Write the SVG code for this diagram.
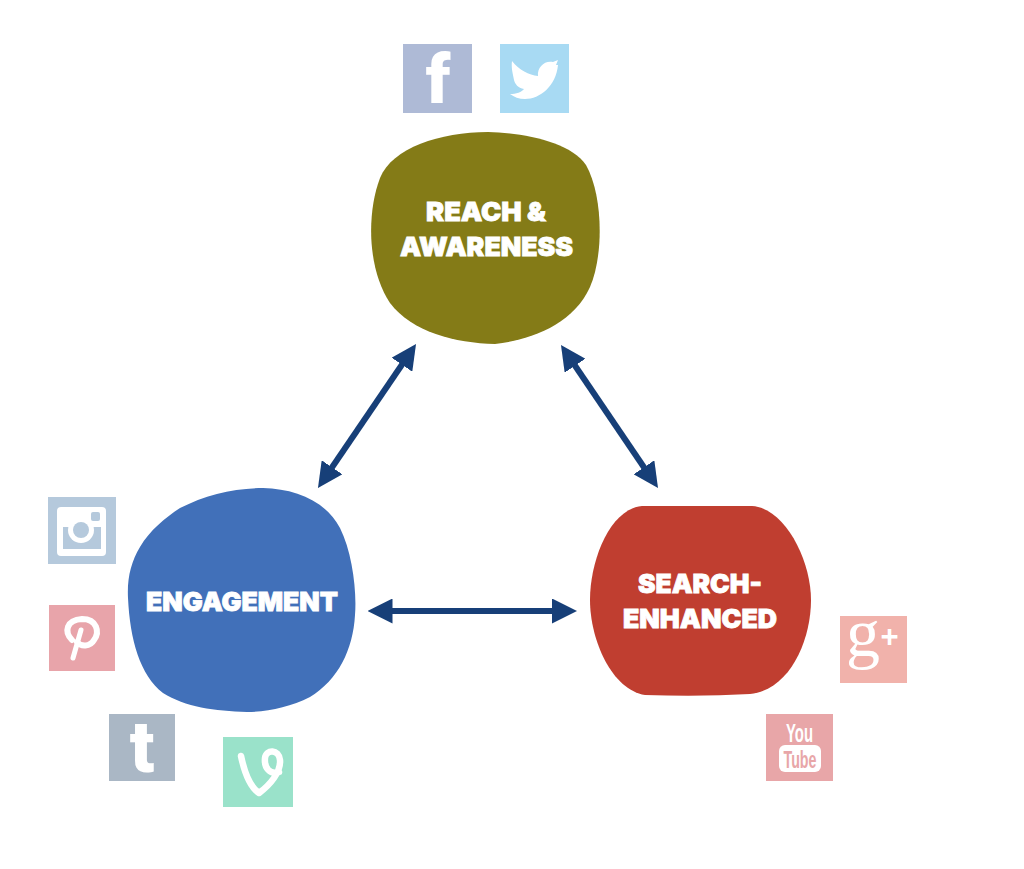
<svg xmlns="http://www.w3.org/2000/svg" width="1024" height="869" viewBox="0 0 1024 869">
<style>
.lbl{font-family:"Inter","Liberation Sans",sans-serif;font-weight:900;font-size:26px;fill:#fff;text-anchor:start;stroke:#fff;stroke-width:.8px}
.ico{fill:#fff;stroke:none;text-anchor:middle}
.link{stroke:#173f78;stroke-width:6;fill:none;marker-start:url(#ah);marker-end:url(#ah)}
.w{fill:none;stroke:#fff;stroke-linecap:round;stroke-linejoin:round}
</style>
<defs>
<marker id="ah" viewBox="0 0 25 25" refX="15" refY="12.5" markerWidth="25" markerHeight="25" markerUnits="userSpaceOnUse" orient="auto-start-reverse"><path d="M0 0L25 12.5L0 25Z" fill="#173f78"/></marker>
</defs>
<rect width="1024" height="869" fill="#fff"/>
<g id="connectors">
<line class="link" x1="410.4" y1="352.3" x2="323.6" y2="479.7"/>
<line class="link" x1="566.6" y1="353.3" x2="652.4" y2="479.7"/>
<line class="link" x1="377.5" y1="611" x2="567" y2="611"/>
</g>
<g id="reach"><path d="M488 132C525 133 570 142 586 165C603 195 604 255 590 287C573 325 530 340 495 344C455 343 412 332 390 303C368 270 366 215 380 178C392 148 440 132 488 132Z" fill="#847b17"/>
<text class="lbl" x="426" y="221" textLength="120" lengthAdjust="spacingAndGlyphs">REACH &amp;</text><text class="lbl" x="400" y="256" textLength="173" lengthAdjust="spacingAndGlyphs">AWARENESS</text></g>
<g id="engagement"><path d="M263 488C295 489 325 500 340 528C352 552 357 590 355 615C353 650 338 680 310 697C290 707 268 712 247 712C215 711 185 707 163 693C140 675 130 640 128 598C127 578 131 562 140 547C150 530 165 518 180 508C205 495 235 488 263 488Z" fill="#4170b9"/>
<text class="lbl" x="146" y="611" textLength="192" lengthAdjust="spacingAndGlyphs">ENGAGEMENT</text></g>
<g id="search"><path d="M642 506L752 506C785 508 811 560 811 600C811 640 790 690 750 694Q700 697 645 695C612 690 590 640 590 600C590 560 610 509 642 506Z" fill="#c03e30"/>
<text class="lbl" x="638" y="593" textLength="124" lengthAdjust="spacingAndGlyphs">SEARCH-</text><text class="lbl" x="623" y="628" textLength="154" lengthAdjust="spacingAndGlyphs">ENHANCED</text></g>
<g id="facebook"><rect x="403" y="44" width="69" height="69" fill="#aebad6"/><text class="ico" x="438" y="103" font-family="Roboto,sans-serif" font-weight="900" font-size="68">f</text></g>
<g id="twitter"><rect x="500" y="44" width="69" height="69" fill="#a8daf3"/><path d="M512 61C519 70 529 75 538 76C537 67 545 60 553 62L558 60L556 65L558 65C556 86 540 99 525 99C519 99 514 97 510 94C516 94 522 92 524 89C518 88 515 84 514 80C513 74 511 68 512 61Z" fill="#fff"/></g>
<g id="instagram"><rect x="48" y="497" width="68" height="67" fill="#b5c9dc"/><rect x="57" y="507" width="49" height="49" rx="4" fill="#fff"/><rect x="63" y="527" width="38" height="22" fill="#b5c9dc"/><circle cx="81" cy="530" r="13" fill="#fff"/><circle cx="81" cy="530" r="8" fill="#b5c9dc"/><rect x="91" y="512" width="9" height="9" rx="2" fill="#b5c9dc"/></g>
<g id="pinterest"><rect x="49" y="605" width="66" height="66" fill="#e8a4aa"/><path class="w" stroke-width="6" d="M72 640C64 632 66 620 82 619C97 619 100 632 94 640C90 647 81 647 77 642"/><path class="w" stroke-width="5" d="M81 630L73 658"/></g>
<g id="tumblr"><rect x="109" y="714" width="66" height="67" fill="#aab7c5"/><text class="ico" x="142" y="772" font-family="Roboto,sans-serif" font-weight="900" font-size="72">t</text></g>
<g id="vine"><rect x="223" y="737" width="70" height="70" fill="#9ae2ca"/><path class="w" stroke-width="6.5" d="M241 756C245 775 250 787 259 793C270 785 281 772 280 760C279 749 266 749 265 758C264 768 270 775 279 772"/></g>
<g id="googleplus"><rect x="840" y="616" width="67" height="67" fill="#f1b2ab"/><text class="ico" x="863" y="656" font-family="Liberation Serif,serif" font-size="68">g</text><text class="ico" x="889.500" y="647" font-family="Liberation Sans,sans-serif" font-weight="700" font-size="31">+</text></g>
<g id="youtube"><rect x="766" y="714" width="67" height="67" fill="#e8a6a8"/><text class="ico" x="799.500" y="742" font-family="Liberation Sans,sans-serif" font-weight="700" font-size="26" textLength="27" lengthAdjust="spacingAndGlyphs">You</text><rect x="779" y="745" width="42" height="27" rx="6" fill="#fff"/><text x="800" y="768" font-family="Liberation Sans,sans-serif" font-weight="700" font-size="23" fill="#e8a6a8" text-anchor="middle" textLength="33" lengthAdjust="spacingAndGlyphs">Tube</text></g>
</svg>
